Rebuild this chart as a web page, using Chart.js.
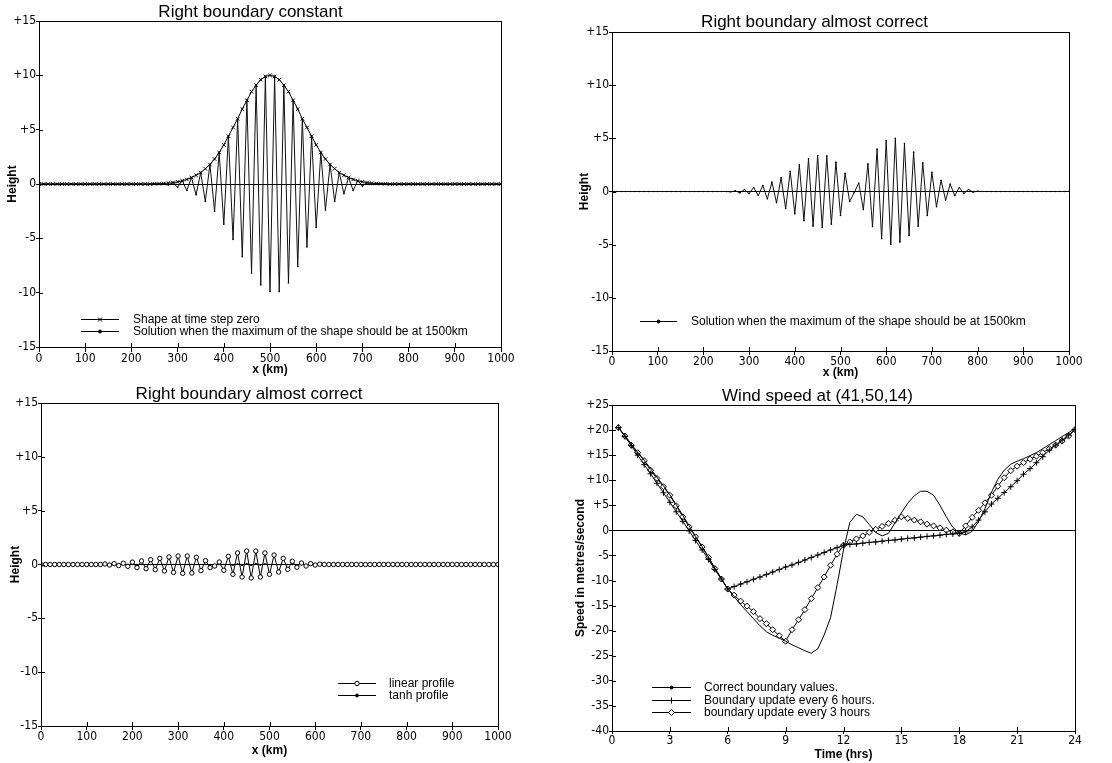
<!DOCTYPE html>
<html>
<head>
<meta charset="utf-8">
<title>Boundary experiments</title>
<script src="https://cdn.jsdelivr.net/npm/chart.js@4.4.1/dist/chart.umd.min.js"></script>
<style>
  body { margin: 0; background: #fff; }
  #page { position: relative; width: 1112px; height: 763px; }
  canvas { position: absolute; }
</style>
</head>
<body>
<div id="page">
  <canvas id="c1" width="520" height="380" style="left:0;top:0"></canvas>
  <canvas id="c2" width="552" height="380" style="left:560px;top:0"></canvas>
  <canvas id="c3" width="520" height="383" style="left:0;top:380px"></canvas>
  <canvas id="c4" width="552" height="383" style="left:560px;top:380px"></canvas>
</div>
<script>
Chart.defaults.font.family = "'Liberation Sans', Arial, sans-serif";
Chart.defaults.color = '#000';
Chart.defaults.animation = false;

// x positions (km) shared by the three wave panels
const xKm = [0,10,20,30,40,50,60,70,80,90,100,110,120,130,140,150,160,170,180,190,
  200,210,220,230,240,250,260,270,280,290,300,310,320,330,340,350,360,370,380,390,
  400,410,420,430,440,450,460,470,480,490,500,510,520,530,540,550,560,570,580,590,
  600,610,620,630,640,650,660,670,680,690,700,710,720,730,740,750,760,770,780,790,
  800,810,820,830,840,850,860,870,880,890,900,910,920,930,940,950,960,970,980,990,1000];

const kmTicks = [0,100,200,300,400,500,600,700,800,900,1000];
const heightTicks = [-15,-10,-5,0,5,10,15];

// top left: Right boundary constant
const shapeZero = [
  0,0,0,0,0,0,0,0,0,0,
  0,0,0,0,0,0,0,0,0,0,
  0,0,0,0,0,0.02,0.03,0.05,0.08,0.13,
  0.2,0.3,0.42,0.6,0.8,1.05,1.4,1.8,2.3,2.9,
  3.6,4.4,5.2,6.0,6.9,7.7,8.5,9.1,9.6,9.9,
  10.0,9.9,9.6,9.1,8.5,7.7,6.9,6.0,5.2,4.4,
  3.6,2.9,2.3,1.8,1.4,1.05,0.8,0.6,0.42,0.3,
  0.2,0.13,0.08,0.05,0.03,0.02,0,0,0,0,
  0,0,0,0,0,0,0,0,0,0,
  0,0,0,0,0,0,0,0,0,0,
  0];
const solutionConst = [
  0,0,0,0,0,0,0,0,0,0,
  0,0,0,0,0,0,0,0,0,0,
  0,0,0,0,0,0.02,-0.05,0.05,-0.1,0.13,
  -0.3,0.3,-0.6,0.6,-1.0,1.05,-1.6,1.8,-2.5,2.9,
  -3.7,4.4,-5.1,6.0,-6.7,7.7,-8.2,9.1,-9.3,9.9,
  -9.9,9.9,-9.9,9.1,-9.1,7.7,-7.6,6.0,-5.8,4.4,
  -4.0,2.9,-2.4,1.8,-1.6,1.05,-0.9,0.6,-0.6,0.3,
  -0.2,0.13,-0.05,0.05,0,0.02,0,0,0,0,
  0,0,0,0,0,0,0,0,0,0,
  0,0,0,0,0,0,0,0,0,0,
  0];

// top right: Right boundary almost correct
const solutionAlmost = [
  0,0,0,0,0,0,0,0,0,0,
  0,0,0,0,0,0,0,0,0,0,
  0,0,0,0,0,0,-0.03,0.06,-0.13,0.19,
  -0.19,0.38,-0.38,0.56,-0.69,0.88,-1.06,1.3,-1.6,1.9,
  -2.1,2.5,-2.75,3.07,-3.26,3.38,-3.38,3.35,-3.07,2.76,
  -2.25,1.7,-0.94,-0.1,0.8,-1.7,2.6,-3.3,4.0,-4.45,
  4.8,-4.98,5.0,-4.76,4.5,-4.13,3.7,-3.26,2.7,-2.25,
  1.8,-1.44,1.06,-0.81,0.69,-0.38,0.38,-0.19,0.19,-0.06,
  0.03,0,0,0,0,0,0,0,0,0,
  0,0,0,0,0,0,0,0,0,0,
  0];

// bottom left: linear vs tanh profile
const linearProfile = [
  0,0,0,0,0,0,0,0,0,0,
  0,0,0,0,0.05,-0.05,0.08,-0.1,0.12,-0.17,
  0.22,-0.29,0.33,-0.39,0.45,-0.48,0.57,-0.6,0.7,-0.73,
  0.79,-0.82,0.79,-0.79,0.67,-0.57,0.36,-0.29,-0.14,0.23,
  -0.54,0.76,-0.91,1.07,-1.16,1.25,-1.25,1.25,-1.16,1.07,
  -0.91,0.88,-0.7,0.57,-0.45,0.3,-0.26,0.14,-0.14,0.08,
  -0.05,0.03,0,0,0,0,0,0,0,0,
  0,0,0,0,0,0,0,0,0,0,
  0,0,0,0,0,0,0,0,0,0,
  0,0,0,0,0,0,0,0,0,0,
  0];
const tanhProfile = [
  0,0,0,0,0,0,0,0,0,0,
  0,0,0,0,0,0,0,0,0,0,
  0,0,0,0,0,0,0,0,0,0,
  0,0,0,0,0,0,0,0,0,0,
  0,0,-0.05,0.05,-0.08,0.08,-0.08,0.08,-0.05,0.05,
  0,0,0,0,0,0,0,0,0,0,
  0,0,0,0,0,0,0,0,0,0,
  0,0,0,0,0,0,0,0,0,0,
  0,0,0,0,0,0,0,0,0,0,
  0,0,0,0,0,0,0,0,0,0,
  0];

// bottom right: Wind speed at (41,50,14)
const hours = [
  0.33,0.67,1,1.33,1.67,2,2.33,2.67,3,
  3.33,3.67,4,4.33,4.67,5,5.33,5.67,6,
  6.33,6.67,7,7.33,7.67,8,8.33,8.67,9,
  9.33,9.67,10,10.33,10.67,11,11.33,11.67,12,
  12.33,12.67,13,13.33,13.67,14,14.33,14.67,15,
  15.33,15.67,16,16.33,16.67,17,17.33,17.67,18,
  18.33,18.67,19,19.33,19.67,20,20.33,20.67,21,
  21.33,21.67,22,22.33,22.67,23,23.33,23.67,24];
const correctWind = [
  20.5,18.9,17.2,15.6,14.0,12.3,10.6,8.9,7.1,
  5.1,3.0,0.9,-1.2,-3.2,-5.3,-7.5,-9.6,-11.7,
  -13.2,-14.8,-16.2,-17.6,-19.0,-20.2,-20.9,-21.5,-22.1,
  -22.8,-23.4,-24.0,-24.5,-23.6,-20.8,-17.4,-10.8,-3.9,
  1.6,3.2,2.7,1.2,-0.4,-1.1,-0.6,1.5,3.5,
  5.4,6.9,7.8,7.8,7.0,5.0,2.7,0.6,-0.5,
  -0.9,-0.2,1.8,4.3,7.6,10.2,12.0,13.2,13.8,
  14.3,14.9,15.5,16.3,17.1,17.9,18.7,19.5,20.3];
const update6h = [
  20.5,18.7,16.9,15.0,13.1,11.3,9.4,7.5,5.6,
  3.7,1.8,-0.1,-2.0,-3.9,-5.8,-7.8,-9.7,-11.7,
  -11.2,-10.7,-10.25,-9.75,-9.3,-8.8,-8.3,-7.8,-7.3,
  -6.9,-6.4,-5.9,-5.4,-4.9,-4.4,-3.9,-3.45,-2.95,
  -2.8,-2.7,-2.55,-2.4,-2.3,-2.15,-2.0,-1.9,-1.75,
  -1.6,-1.5,-1.35,-1.2,-1.1,-0.95,-0.8,-0.7,-0.6,
  -0.3,0.7,2.05,3.7,5.25,6.4,7.55,8.7,9.9,
  11.2,12.3,13.5,14.7,16.0,17.0,18.0,19.0,20.1];
const update3h = [
  20.5,18.8,17.0,15.5,13.9,12.0,10.35,8.7,7.0,
  4.9,2.7,0.7,-1.3,-3.3,-5.4,-7.6,-9.7,-11.7,
  -12.9,-14.1,-15.1,-16.2,-17.6,-18.6,-19.8,-21.0,-22.1,
  -19.8,-17.8,-15.8,-13.6,-11.4,-9.3,-6.95,-4.75,-2.95,
  -2.3,-1.7,-1.1,-0.4,0.2,0.8,1.4,2.0,2.7,
  2.4,2.05,1.7,1.25,0.9,0.5,0.05,-0.3,-0.6,
  0.9,2.6,4.0,5.5,7.0,8.8,10.5,11.9,12.8,
  13.5,14.2,14.8,15.5,16.3,17.0,17.8,18.8,20.1];
const hourTicks = [0,3,6,9,12,15,18,21,24];
const speedTicks = [-40,-35,-30,-25,-20,-15,-10,-5,0,5,10,15,20,25];

const pts = (xs, ys) => xs.map((x, i) => ({ x: x, y: ys[i] }));

const tickFont = { family: "'Liberation Sans Narrow', 'DejaVu Sans Condensed', sans-serif", size: 12 };
const axisFont = { size: 12, weight: 'bold' };

function drawMarker(ctx, style, r, x, y, fill) {
  ctx.fillStyle = fill || '#000';
  ctx.beginPath();
  if (style === 'circle') {
    ctx.arc(x, y, r, 0, Math.PI * 2);
    ctx.fill();
    ctx.stroke();
  } else if (style === 'rectRot') {
    ctx.moveTo(x, y - r); ctx.lineTo(x + r, y); ctx.lineTo(x, y + r); ctx.lineTo(x - r, y); ctx.closePath();
    ctx.fill();
    ctx.stroke();
  } else if (style === 'cross') {
    ctx.moveTo(x - r, y); ctx.lineTo(x + r, y); ctx.moveTo(x, y - r); ctx.lineTo(x, y + r);
    ctx.stroke();
  } else if (style === 'crossRot') {
    const d = r * 0.8;
    ctx.moveTo(x - d, y - d); ctx.lineTo(x + d, y + d); ctx.moveTo(x - d, y + d); ctx.lineTo(x + d, y - d);
    ctx.stroke();
  }
}

// box around the plot plus the little inward tick marks
const framePlugin = {
  id: 'frame',
  afterDatasetsDraw(chart) {
    const { ctx, chartArea: a, scales } = chart;
    ctx.save();
    ctx.strokeStyle = '#000';
    ctx.lineWidth = 1;
    ctx.strokeRect(a.left + 0.5, a.top + 0.5, a.right - a.left, a.bottom - a.top);
    ctx.beginPath();
    scales.x.ticks.forEach(t => {
      const px = Math.round(scales.x.getPixelForValue(t.value)) + 0.5;
      ctx.moveTo(px, a.bottom); ctx.lineTo(px, a.bottom - 4);
    });
    scales.y.ticks.forEach(t => {
      const py = Math.round(scales.y.getPixelForValue(t.value)) + 0.5;
      ctx.moveTo(a.left, py); ctx.lineTo(a.left + 4, py);
    });
    ctx.stroke();
    ctx.restore();
  }
};

// legend drawn inside the plot, like the original plotter output
function boxLegend(x, y, rowH, len, textX) {
  return {
    id: 'boxLegend',
    afterDraw(chart) {
      const ctx = chart.ctx;
      ctx.save();
      ctx.font = "12px 'Liberation Sans', Arial, sans-serif";
      ctx.textBaseline = 'middle';
      ctx.lineWidth = 1;
      ctx.strokeStyle = '#000';
      chart.data.datasets.forEach((ds, i) => {
        const yy = Math.round(y + i * rowH) + 0.5;
        ctx.beginPath();
        ctx.moveTo(x, yy); ctx.lineTo(x + len, yy);
        ctx.stroke();
        drawMarker(ctx, ds.pointStyle, Math.max(ds.pointRadius, 1.5), x + len / 2, yy, ds.pointBackgroundColor);
        ctx.fillStyle = '#000';
        ctx.fillText(ds.label, textX, yy);
      });
      ctx.restore();
    }
  };
}

function panelOptions(p) {
  return {
    responsive: false,
    maintainAspectRatio: false,
    layout: { padding: { left: 0, right: p.padRight, top: 0, bottom: 0 } },
    elements: { line: { tension: 0, borderWidth: 1 } },
    plugins: {
      legend: { display: false },
      tooltip: { enabled: false },
      title: {
        display: true,
        text: p.title,
        font: { size: 17, weight: 'normal', lineHeight: 1 },
        padding: { top: p.titleTop, bottom: p.titleBottom }
      }
    },
    scales: {
      x: {
        type: 'linear',
        min: p.xTicks[0],
        max: p.xTicks[p.xTicks.length - 1],
        afterBuildTicks: s => { s.ticks = p.xTicks.map(v => ({ value: v })); },
        afterFit: s => { s.height = p.xHeight; },
        ticks: { font: tickFont, padding: 0, autoSkip: false, maxRotation: 0, callback: v => String(v) },
        grid: { drawOnChartArea: false, tickLength: p.xTickLen, tickColor: '#000' },
        border: { color: '#000' },
        title: { display: true, text: p.xTitle, font: axisFont, padding: { top: 0, bottom: p.xTitlePad } }
      },
      y: {
        min: p.yTicks[0],
        max: p.yTicks[p.yTicks.length - 1],
        afterBuildTicks: s => { s.ticks = p.yTicks.map(v => ({ value: v })); },
        afterFit: s => { s.width = p.yWidth; },
        ticks: {
          font: tickFont, padding: 0, autoSkip: false,
          callback: v => v > 0 ? '+' + v : String(v)
        },
        grid: {
          color: c => c.tick && c.tick.value === 0 ? '#000' : 'rgba(0,0,0,0)',
          tickLength: 3,
          tickColor: '#000'
        },
        border: { color: '#000' },
        title: { display: true, text: p.yTitle, font: axisFont, padding: { top: p.yTitlePad, bottom: 0 } }
      }
    }
  };
}

new Chart(document.getElementById('c1'), {
  type: 'line',
  data: {
    datasets: [
      { label: 'Shape at time step zero', data: pts(xKm, shapeZero),
        borderColor: '#000', pointStyle: 'crossRot', pointRadius: 2.5, pointBorderWidth: 1,
        pointBorderColor: '#000', pointBackgroundColor: '#000' },
      { label: 'Solution when the maximum of the shape should be at 1500km', data: pts(xKm, solutionConst),
        borderColor: '#111', pointStyle: 'circle', pointRadius: 0.8, pointBorderWidth: 0,
        pointBorderColor: '#000', pointBackgroundColor: '#000' }
    ]
  },
  options: panelOptions({
    title: 'Right boundary constant', titleTop: 4, titleBottom: 0, padRight: 19,
    xTicks: kmTicks, yTicks: heightTicks, xHeight: 33, xTickLen: 5, xTitle: 'x (km)', xTitlePad: 3,
    yWidth: 39, yTitle: 'Height', yTitlePad: 5
  }),
  plugins: [framePlugin, boxLegend(81, 319, 12, 38, 133)]
});

new Chart(document.getElementById('c2'), {
  type: 'line',
  data: {
    datasets: [
      { label: 'Solution when the maximum of the shape should be at 1500km', data: pts(xKm, solutionAlmost),
        borderColor: '#111', pointStyle: 'circle', pointRadius: 0.8, pointBorderWidth: 0,
        pointBorderColor: '#000', pointBackgroundColor: '#000' }
    ]
  },
  options: panelOptions({
    title: 'Right boundary almost correct', titleTop: 14, titleBottom: 1, padRight: 43,
    xTicks: kmTicks, yTicks: heightTicks, xHeight: 29, xTickLen: 4, xTitle: 'x (km)', xTitlePad: 0,
    yWidth: 52, yTitle: 'Height', yTitlePad: 17
  }),
  plugins: [framePlugin, boxLegend(80, 321, 12, 37, 131)]
});

new Chart(document.getElementById('c3'), {
  type: 'line',
  data: {
    datasets: [
      { label: 'linear profile', data: pts(xKm, linearProfile),
        borderColor: '#000', pointStyle: 'circle', pointRadius: 2.2, pointBorderWidth: 1,
        pointBorderColor: '#000', pointBackgroundColor: '#fff' },
      { label: 'tanh profile', data: pts(xKm, tanhProfile),
        borderColor: '#000', pointStyle: 'circle', pointRadius: 0.8, pointBorderWidth: 0,
        pointBorderColor: '#000', pointBackgroundColor: '#000' }
    ]
  },
  options: panelOptions({
    title: 'Right boundary almost correct', titleTop: 6, titleBottom: 0, padRight: 22,
    xTicks: kmTicks, yTicks: heightTicks, xHeight: 37, xTickLen: 4, xTitle: 'x (km)', xTitlePad: 5,
    yWidth: 41, yTitle: 'Height', yTitlePad: 8
  }),
  plugins: [framePlugin, boxLegend(338, 303, 12, 38, 389)]
});

new Chart(document.getElementById('c4'), {
  type: 'line',
  data: {
    datasets: [
      { label: 'Correct boundary values.', data: pts(hours, correctWind),
        borderColor: '#000', pointStyle: 'circle', pointRadius: 0, pointBorderWidth: 0,
        pointBorderColor: '#000', pointBackgroundColor: '#000' },
      { label: 'Boundary update every 6 hours.', data: pts(hours, update6h),
        borderColor: '#000', pointStyle: 'cross', pointRadius: 3, pointBorderWidth: 1,
        pointBorderColor: '#000', pointBackgroundColor: '#000' },
      { label: 'boundary update every 3 hours', data: pts(hours, update3h),
        borderColor: '#000', pointStyle: 'rectRot', pointRadius: 3, pointBorderWidth: 1,
        pointBorderColor: '#000', pointBackgroundColor: '#fff' }
    ]
  },
  options: panelOptions({
    title: 'Wind speed at (41,50,14)', titleTop: 8, titleBottom: 0, padRight: 37,
    xTicks: hourTicks, yTicks: speedTicks, xHeight: 32, xTickLen: 3, xTitle: 'Time (hrs)', xTitlePad: 1,
    yWidth: 52, yTitle: 'Speed in metres/second', yTitlePad: 13
  }),
  plugins: [framePlugin, boxLegend(92, 307, 12.5, 39, 144)]
});
</script>
</body>
</html>
